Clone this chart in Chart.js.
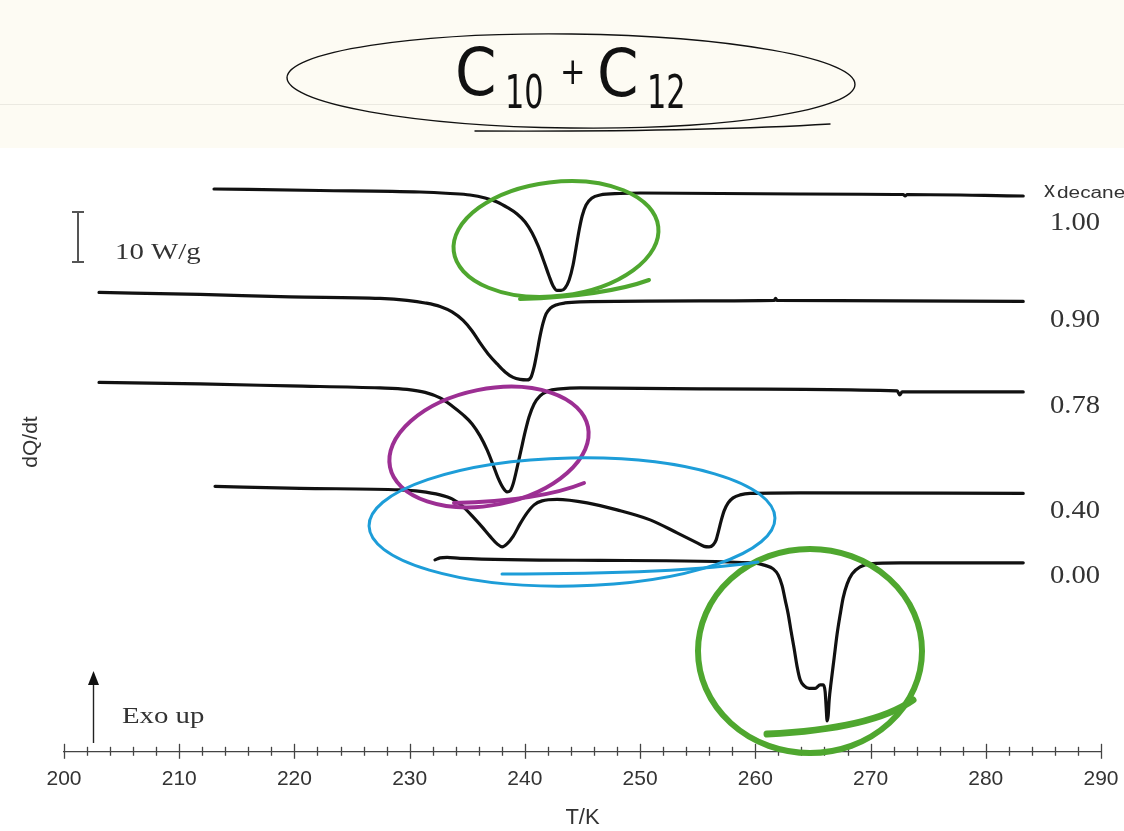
<!DOCTYPE html>
<html>
<head>
<meta charset="utf-8">
<script src="https://cdn.jsdelivr.net/npm/chart.js@4.4.1/dist/chart.umd.min.js"></script>
<style>
html,body{margin:0;padding:0;background:#fff;}
#wrap{position:relative;width:1124px;height:831px;}
</style>
</head>
<body>
<div id="wrap"><canvas id="c" width="1124" height="831"></canvas></div>
<script>
// ---- data (T in K, stacked dQ/dt in W/g, offset per trace) ----
const tempTicks = [200,210,220,230,240,250,260,270,280,290];
const seriesLabels = ['1.00','0.90','0.78','0.40','0.00'];

const T100 = [213.02,222.22,230.90,233.51,235.24,236.55,237.59,238.54,239.32,240.02,240.63,241.15,241.67,242.10,242.45,242.80,243.14,243.49,243.84,244.18,244.44,244.71,244.97,245.31,245.83,246.53,248.26,250.00,263.89,272.83,273.00,273.18,283.25];
const V100 = [112.6,112.3,112.0,111.7,111.4,110.8,110.0,108.8,107.6,106.0,103.8,101.2,98.0,95.2,93.2,92.3,92.3,92.8,94.4,97.4,100.8,104.4,107.2,109.4,110.8,111.4,111.7,111.8,111.6,111.5,111.2,111.5,111.2];

const T090 = [203.04,211.81,219.62,227.43,229.77,231.34,232.64,233.68,234.64,235.42,236.11,236.81,237.59,238.28,238.98,239.58,240.19,240.54,240.80,241.06,241.32,241.58,241.84,242.19,242.71,243.49,244.79,255.21,261.63,261.76,261.89,283.25];
const V090 = [91.9,91.5,91.0,90.7,90.3,89.8,89.1,88.0,86.3,84.2,81.8,79.6,77.6,76.0,74.9,74.5,74.4,75.0,77.0,80.0,83.2,85.8,87.6,88.7,89.4,89.8,90.0,90.2,90.3,90.7,90.3,90.1];

const T078 = [203.04,211.81,219.62,227.43,229.77,231.34,232.64,233.68,234.64,235.42,236.11,236.72,237.24,237.67,238.11,238.45,238.72,238.98,239.32,239.67,240.02,240.36,240.80,241.32,242.01,243.06,244.79,255.21,272.31,272.53,272.74,283.25];
const V078 = [73.9,73.6,73.2,72.8,72.5,71.9,70.8,69.2,67.4,65.6,63.2,60.4,57.4,54.8,52.8,52.0,52.2,53.6,56.8,60.4,64.0,67.0,69.6,71.2,72.2,72.6,72.8,72.6,72.2,71.4,72.0,72.0];

const T040 = [213.11,220.49,229.17,230.90,232.64,233.68,234.55,235.50,236.28,236.98,237.59,238.02,238.45,238.98,239.58,240.19,240.80,241.49,242.80,245.40,248.00,250.87,253.21,254.95,255.56,255.99,256.34,256.60,256.81,257.03,257.29,257.64,258.07,258.68,259.55,263.89,283.25];
const V040 = [53.1,52.7,52.4,52.1,51.4,50.6,49.2,47.0,45.0,43.1,41.6,41.0,41.6,43.1,45.6,47.8,49.4,50.2,50.5,49.8,48.4,46.4,43.8,41.8,41.1,41.0,41.4,42.4,44.2,46.2,48.2,49.8,50.8,51.4,51.7,51.8,51.7];

const T000 = [232.20,232.64,233.25,234.38,246.53,259.81,260.85,261.55,261.98,262.33,262.59,262.85,263.11,263.37,263.63,263.89,264.24,264.67,265.19,265.63,265.89,266.06,266.15,266.23,266.32,266.41,266.58,266.84,267.10,267.36,267.62,267.97,268.40,269.10,269.97,272.57,283.25];
const V000 = [38.4,38.8,38.9,38.7,38.3,37.8,37.3,36.6,35.4,33.2,30.4,27.6,24.0,20.6,17.0,14.4,13.2,12.7,12.7,13.4,13.4,12.0,8.8,6.2,7.2,10.4,14.0,18.8,23.6,27.4,30.8,33.6,35.6,37.0,37.6,37.8,37.8];

const seriesT = [T100,T090,T078,T040,T000];
const seriesV = [V100,V090,V078,V040,V000];

// ---- decorations (pixel layout) ----
const GREEN='#4fa72f', PURPLE='#9c2f93', BLUE='#1d9dd8';
const ellipses = [
  {cx:571,cy:81,rx:284,ry:47,rot:0.012,color:'#111',w:1.4},
  {cx:556,cy:239,rx:103,ry:57,rot:-0.12,color:GREEN,w:4},
  {cx:489,cy:447,rx:101,ry:58,rot:-0.2,color:PURPLE,w:4},
  {cx:572,cy:522,rx:203,ry:64,rot:-0.02,color:BLUE,w:3},
  {cx:810,cy:651,rx:112,ry:102,rot:0,color:GREEN,w:6}
];
const swooshes = [
  {p:[475,131,700,132,830,124],color:'#111',w:1.4},
  {p:[520,299,605,296,649,280],color:GREEN,w:4},
  {p:[454,503,540,501,584,483],color:PURPLE,w:4},
  {p:[502,574,680,574,758,562],color:BLUE,w:3},
  {p:[767,734,872,729,913,700],color:GREEN,w:7}
];
const rightLabelY = [223,320,406,511,576];

function txt(ctx,s,x,y,font,sx,align,base,color){
  ctx.save();
  ctx.font=font; ctx.fillStyle=color; ctx.textAlign=align||'left'; ctx.textBaseline=base||'alphabetic';
  ctx.translate(x,y); ctx.scale(sx||1,1); ctx.fillText(s,0,0);
  ctx.restore();
}

const bgPlugin = {
  id:'bg',
  beforeDraw(chart){
    const ctx=chart.ctx;
    ctx.save();
    ctx.fillStyle='#ffffff'; ctx.fillRect(0,0,chart.width,chart.height);
    ctx.fillStyle='#fdfbf3'; ctx.fillRect(0,0,chart.width,148);
    ctx.strokeStyle='rgba(0,0,0,0.07)'; ctx.lineWidth=1;
    ctx.beginPath(); ctx.moveTo(0,104.5); ctx.lineTo(chart.width,104.5); ctx.stroke();
    ctx.restore();
  }
};

const decoPlugin = {
  id:'deco',
  afterDraw(chart){
    const ctx=chart.ctx, xs=chart.scales.x, ys=chart.scales.y;
    ctx.save();
    // minor & major ticks on T axis
    const yb = chart.chartArea.bottom;
    ctx.strokeStyle='#444'; ctx.lineWidth=1.3;
    for(let v=200; v<=290; v+=2){
      const px=Math.round(xs.getPixelForValue(v))+0.5;
      const major = v%10===0;
      ctx.beginPath();
      ctx.moveTo(px, yb-(major?8:5)); ctx.lineTo(px, yb+(major?7:4)); ctx.stroke();
    }
    // scale bar 10 W/g
    const sx=78, y1=ys.getPixelForValue(108), y2=ys.getPixelForValue(98);
    ctx.strokeStyle='#555'; ctx.lineWidth=2;
    ctx.beginPath(); ctx.moveTo(sx,y1); ctx.lineTo(sx,y2);
    ctx.moveTo(sx-6,y1); ctx.lineTo(sx+6,y1); ctx.moveTo(sx-6,y2); ctx.lineTo(sx+6,y2); ctx.stroke();
    txt(ctx,'10 W/g',115,259,'24px "Liberation Serif"',1.2,'left','alphabetic','#333');
    // Exo up arrow
    ctx.strokeStyle='#222'; ctx.lineWidth=1.4;
    ctx.beginPath(); ctx.moveTo(93.5,743); ctx.lineTo(93.5,684); ctx.stroke();
    ctx.fillStyle='#111';
    ctx.beginPath(); ctx.moveTo(93.5,671); ctx.lineTo(88,685); ctx.lineTo(99,685); ctx.closePath(); ctx.fill();
    txt(ctx,'Exo up',122,723,'24px "Liberation Serif"',1.2,'left','alphabetic','#333');
    // y label
    ctx.save(); ctx.translate(31,442); ctx.rotate(-Math.PI/2);
    ctx.font='21px "Liberation Sans"'; ctx.fillStyle='#333'; ctx.textAlign='center'; ctx.textBaseline='middle';
    ctx.fillText('dQ/dt',0,0); ctx.restore();
    // right labels
    txt(ctx,'x',1044,197,'22px "Liberation Sans"',1.0,'left','alphabetic','#333');
    txt(ctx,'decane',1057,198,'16px "Liberation Sans"',1.3,'left','alphabetic','#333');
    seriesLabels.forEach((s,i)=>txt(ctx,s,1050,rightLabelY[i],'26px "Liberation Serif"',1.1,'left','middle','#333'));
    // header text
    txt(ctx,'C',455,95,'66px "DejaVu Sans"',0.9,'left','alphabetic','#111');
    txt(ctx,'10',505,108,'46px "DejaVu Sans"',0.66,'left','alphabetic','#111');
    txt(ctx,'+',560,84,'38px "DejaVu Sans"',0.8,'left','alphabetic','#111');
    txt(ctx,'C',597,96,'66px "DejaVu Sans"',0.9,'left','alphabetic','#111');
    txt(ctx,'12',647,108,'46px "DejaVu Sans"',0.66,'left','alphabetic','#111');
    // ellipses and swooshes
    ctx.lineCap='round';
    ellipses.forEach(e=>{
      ctx.strokeStyle=e.color; ctx.lineWidth=e.w;
      ctx.beginPath(); ctx.ellipse(e.cx,e.cy,e.rx,e.ry,e.rot,0,Math.PI*2); ctx.stroke();
    });
    swooshes.forEach(s=>{
      const p=s.p; ctx.strokeStyle=s.color; ctx.lineWidth=s.w;
      ctx.beginPath(); ctx.moveTo(p[0],p[1]); ctx.quadraticCurveTo(p[2],p[3],p[4],p[5]); ctx.stroke();
    });
    ctx.restore();
  }
};

const datasets = seriesLabels.map((lab,i)=>({
  label:lab,
  data: seriesT[i].map((t,k)=>({x:t,y:seriesV[i][k]})),
  borderColor:'#111',
  borderWidth:3.2,
  pointRadius:0,
  fill:false,
  borderJoinStyle:'round',
  borderCapStyle:'round',
  cubicInterpolationMode:'monotone'
}));

new Chart(document.getElementById('c'),{
  type:'line',
  data:{datasets},
  options:{
    responsive:false,
    devicePixelRatio:1,
    animation:false,
    events:[],
    layout:{padding:{left:64,right:23,top:152,bottom:2}},
    plugins:{legend:{display:false},tooltip:{enabled:false},title:{display:false}},
    scales:{
      x:{
        type:'linear',min:200,max:290,
        afterBuildTicks(scale){ scale.ticks = tempTicks.map(v=>({value:v})); },
        afterFit(scale){ scale.paddingLeft = 0; scale.paddingRight = 0; },
        grid:{display:false,drawTicks:false},
        border:{display:true,color:'#444',width:1.3},
        ticks:{padding:15,color:'#333',font:{family:'"Liberation Sans"',size:21}},
        title:{display:true,text:'T/K',color:'#333',font:{family:'"Liberation Sans"',size:22,lineHeight:1.0},padding:{top:0,bottom:0}}
      },
      y:{type:'linear',min:0,max:120,display:false}
    }
  },
  plugins:[bgPlugin,decoPlugin]
});
</script>
</body>
</html>
